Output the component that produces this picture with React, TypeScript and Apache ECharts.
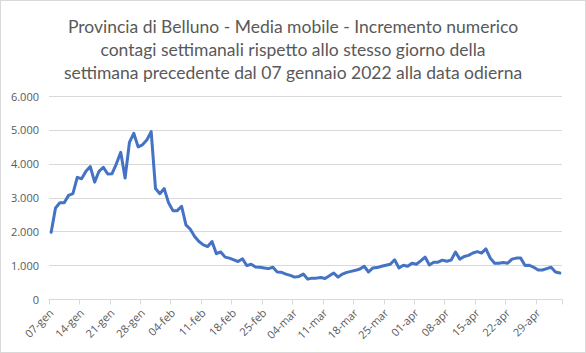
import React, { useEffect, useRef } from "react";
import * as echarts from "echarts";

const titleLines = [
  "Provincia di Belluno - Media mobile - Incremento numerico",
  "contagi settimanali rispetto allo stesso giorno della",
  "settimana precedente dal 07 gennaio 2022 alla data odierna",
];

// month abbreviations and day ranges covered by the x axis (07-gen .. 04-mag)
const monthNames = ["gen", "feb", "mar", "apr", "mag"];
const monthDays = [
  [7, 31],
  [1, 28],
  [1, 31],
  [1, 30],
  [1, 4],
];
const categories: string[] = [];
monthNames.forEach((m, k) => {
  for (let d = monthDays[k][0]; d <= monthDays[k][1]; d++) {
    categories.push((d < 10 ? "0" + d : "" + d) + "-" + m);
  }
});

const valuesJan = [
  1980, 2700, 2850, 2850, 3070, 3120, 3600, 3560, 3780, 3920,
  3460, 3780, 3900, 3700, 3710, 4000, 4340, 3580, 4630, 4900,
  4500, 4560, 4700, 4950, 3270,
];
const valuesFeb = [
  3120, 3270, 2850, 2620, 2620, 2750, 2200, 2070, 1860, 1710,
  1610, 1560, 1710, 1350, 1400, 1250, 1220, 1170, 1120, 1200,
  1000, 1040, 960, 950, 930, 910, 950, 810,
];
const valuesMar = [
  800, 750, 710, 660, 680, 750, 600, 630, 630, 650,
  620, 700, 780, 660, 750, 800, 830, 860, 900, 980,
  810, 930, 940, 980, 1010, 1040, 1170, 930, 1010, 980,
  1070,
];
const valuesApr = [
  1040, 1140, 1250, 1020, 1100, 1100, 1160, 1130, 1160, 1400,
  1190, 1270, 1300, 1370, 1410, 1370, 1490, 1220, 1070, 1070,
  1090, 1070, 1190, 1220, 1220, 1000, 1010, 950, 870, 870,
];
const valuesMay = [910, 950, 810, 780];

const values = [...valuesJan, ...valuesFeb, ...valuesMar, ...valuesApr, ...valuesMay];

const yTicks = [0, 1000, 2000, 3000, 4000, 5000, 6000];

export default function App() {
  const ref = useRef<HTMLDivElement>(null);
  useEffect(() => {
    if (!ref.current) return;
    const chart = echarts.init(ref.current, undefined, { renderer: "svg" });
    const font = "'Open Sans', 'Liberation Sans', sans-serif";
    chart.setOption({
      animation: false,
      backgroundColor: "#ffffff",
      title: {
        text: titleLines.join("\n"),
        left: "center",
        top: 9,
        textStyle: {
          fontFamily: "Lato, 'Open Sans', sans-serif",
          fontSize: 17.5,
          fontWeight: "normal",
          color: "#595959",
          lineHeight: 23,
        },
      },
      grid: { left: 48, right: 23, top: 95, bottom: 52.5, containLabel: false },
      xAxis: {
        type: "category",
        data: categories,
        boundaryGap: true,
        axisLine: { lineStyle: { color: "#d9d9d9", width: 1 } },
        axisTick: {
          show: true,
          interval: 6,
          length: 5,
          lineStyle: { color: "#d9d9d9" },
        },
        axisLabel: {
          interval: 6,
          rotate: 45,
          fontFamily: font,
          fontSize: 11,
          color: "#595959",
          margin: 11,
        },
      },
      yAxis: {
        type: "value",
        min: yTicks[0],
        max: yTicks[yTicks.length - 1],
        interval: 1000,
        axisLine: { show: false },
        axisTick: { show: false },
        splitLine: { lineStyle: { color: "#d9d9d9", width: 1 } },
        axisLabel: {
          fontFamily: font,
          fontSize: 11,
          color: "#595959",
          margin: 10,
          formatter: (v: number) =>
            v === 0 ? "0" : v.toLocaleString("de-DE"),
        },
      },
      series: [
        {
          type: "line",
          data: values,
          symbol: "none",
          lineStyle: { color: "#4472C4", width: 3, join: "round", cap: "round" },
        },
      ],
    });
    return () => chart.dispose();
  }, []);
  return (
    <div
      style={{
        position: "fixed",
        left: 0,
        top: 0,
        width: 586,
        height: 353,
        boxSizing: "border-box",
        border: "1px solid #d9d9d9",
        background: "#fff",
      }}
    >
      <div ref={ref} style={{ width: 584, height: 351 }} />
    </div>
  );
}
